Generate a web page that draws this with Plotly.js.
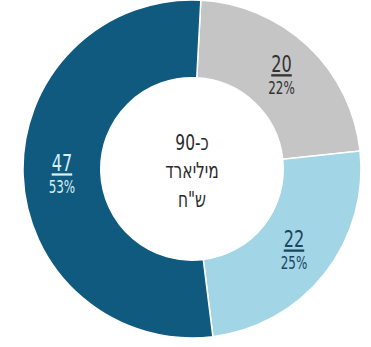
<!DOCTYPE html>
<html lang="he">
<head>
<meta charset="utf-8">
<script src="https://cdn.plot.ly/plotly-3.0.1.min.js"></script>
<style>
  html, body { margin: 0; padding: 0; background: #ffffff; }
  #chart { width: 371px; height: 347px; }
</style>
</head>
<body>
<div id="chart"></div>
<script>
// Segments, clockwise from 12 o'clock (billions of NIS)
const segments = ['א', 'ב', 'ג'];
const amounts = [20, 22, 47];
const segmentColors = ['#c5c5c5', '#a2d5e6', '#105a7f'];
const labelColors = ['#333333', '#1b4560', '#d9eef5'];
const centerLines = ['כ-90', 'מיליארד', 'ש"ח'];

const face = '"DejaVu Sans Condensed", "DejaVu Sans", sans-serif';
// horizontal squeeze that gives the labels a narrow typeface look
const squeeze = 0.78;

const trace = {
  type: 'pie',
  labels: segments,
  values: amounts,
  sort: false,
  direction: 'clockwise',
  rotation: 3,
  hole: 0.54,
  marker: { colors: segmentColors, line: { color: '#ffffff', width: 1.5 } },
  textposition: 'inside',
  insidetextorientation: 'horizontal',
  texttemplate: '<span style="font-size:23px;text-decoration:underline">%{value}</span><br>%{percent:.0%}',
  textfont: { family: face, size: 17, color: labelColors },
  hoverinfo: 'none',
  showlegend: false,
  title: {
    text: centerLines.join('<br>'),
    position: 'middle center',
    font: { family: face, size: 22, color: '#2b2b2b' }
  },
  domain: { x: [0.062, 0.973], y: [0.026, 1.0] }
};

const layout = {
  width: 371,
  height: 347,
  margin: { l: 0, r: 0, t: 0, b: 0 },
  paper_bgcolor: '#ffffff',
  showlegend: false
};

Plotly.newPlot('chart', [trace], layout, { displayModeBar: false, staticPlot: true })
  .then(gd => {
    gd.querySelectorAll('g.slicetext text, text.titletext').forEach(t => {
      const tr = t.getAttribute('transform') || '';
      t.setAttribute('transform', tr + ' scale(' + squeeze + ',1)');
    });
  });
</script>
</body>
</html>
